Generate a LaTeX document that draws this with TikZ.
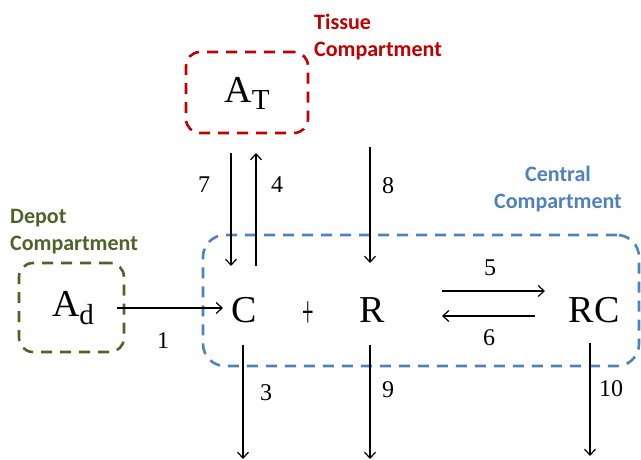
\documentclass[tikz,border=0pt]{standalone}
\usepackage{fontspec}
\setmainfont{Liberation Serif}
\newfontfamily\labelfont{Carlito}
\usetikzlibrary{arrows.meta}
\definecolor{tissuered}{HTML}{C00000}
\definecolor{depotgreen}{HTML}{4F6228}
\definecolor{centralblue}{HTML}{4F81BD}
\begin{document}
\begin{tikzpicture}[x=1pt,y=-1pt,
  compbox/.style={draw, line width=2.6pt, dash pattern=on 11pt off 8pt, rounded corners=14pt, inner sep=0pt},
  complabel/.style={font=\labelfont\bfseries\fontsize{22}{27}\selectfont, align=left, inner sep=0pt},
  species/.style={font=\fontsize{38}{42}\selectfont, inner sep=0pt},
  rate/.style={font=\fontsize{24}{28}\selectfont, inner sep=0pt},
  flow/.style={line width=1.2pt, -{Straight Barb[length=6pt,width=11pt,line width=1.2pt]}}]
\useasboundingbox (0,0) rectangle (641,460);

% compartments
\node[compbox, draw=centralblue, rounded corners=22pt, minimum width=436pt, minimum height=131pt] (central) at (421,300.5) {};
\node[compbox, draw=tissuered, minimum width=122pt, minimum height=81pt] (tissue) at (247,92.5) {};
\node[compbox, draw=depotgreen, minimum width=105pt, minimum height=89pt] (depot) at (71.5,307.5) {};

\node[complabel, text=tissuered, anchor=west] (tissuelbl) at (314,37) {Tissue\\Compartment};
\node[complabel, text=depotgreen, anchor=west] (depotlbl) at (10,232) {Depot\\Compartment};
\node[complabel, text=centralblue, align=center] (centrallbl) at (558,189.5) {Central\\Compartment};

% species
\node[species] (AT) at (247,93) {A\raisebox{-7pt}{\fontsize{29}{32}\selectfont T}};
\node[species] (Ad) at (73,308) {A\raisebox{-8pt}{\fontsize{29}{32}\selectfont d}};
\node[species] (C) at (244,310) {C};
\node[species] (plus) at (308,315) {\fontsize{24}{28}\selectfont\scalebox{0.85}[1.9]{+}};
\node[species] (R) at (372,310) {R};
\node[species] (RC) at (594,310) {RC};

% free ends of the flows
\coordinate (t7) at (231,153);
\coordinate (c7) at (231,266);
\coordinate (t4) at (256,153);
\coordinate (c4) at (256,266);
\coordinate (s8) at (370,147);
\coordinate (r8) at (370,263);
\coordinate (d1) at (117,308);
\coordinate (c1) at (223,308);
\coordinate (s5) at (442,291);
\coordinate (e5) at (545,291);
\coordinate (s6) at (535,316);
\coordinate (e6) at (442,316);
\coordinate (s3) at (243,345);
\coordinate (e3) at (243,459);
\coordinate (s9) at (370,345);
\coordinate (e9) at (370,459);
\coordinate (s10) at (590,343);
\coordinate (e10) at (590,456);

\draw[flow] (t7) -- (c7);
\draw[flow] (c4) -- (t4);
\draw[flow] (s8) -- (r8);
\draw[flow] (d1) -- (c1);
\draw[flow] (s5) -- (e5);
\draw[flow] (s6) -- (e6);
\draw[flow] (s3) -- (e3);
\draw[flow] (s9) -- (e9);
\draw[flow] (s10) -- (e10);

% rate constants
\node[rate] (k1) at (163,341) {1};
\node[rate] (k3) at (266,393) {3};
\node[rate] (k4) at (277,185) {4};
\node[rate] (k5) at (490,268) {5};
\node[rate] (k6) at (489,338) {6};
\node[rate] (k7) at (204,185) {7};
\node[rate] (k8) at (388,186) {8};
\node[rate] (k9) at (388,390) {9};
\node[rate] (k10) at (611,389) {10};
\end{tikzpicture}
\end{document}
